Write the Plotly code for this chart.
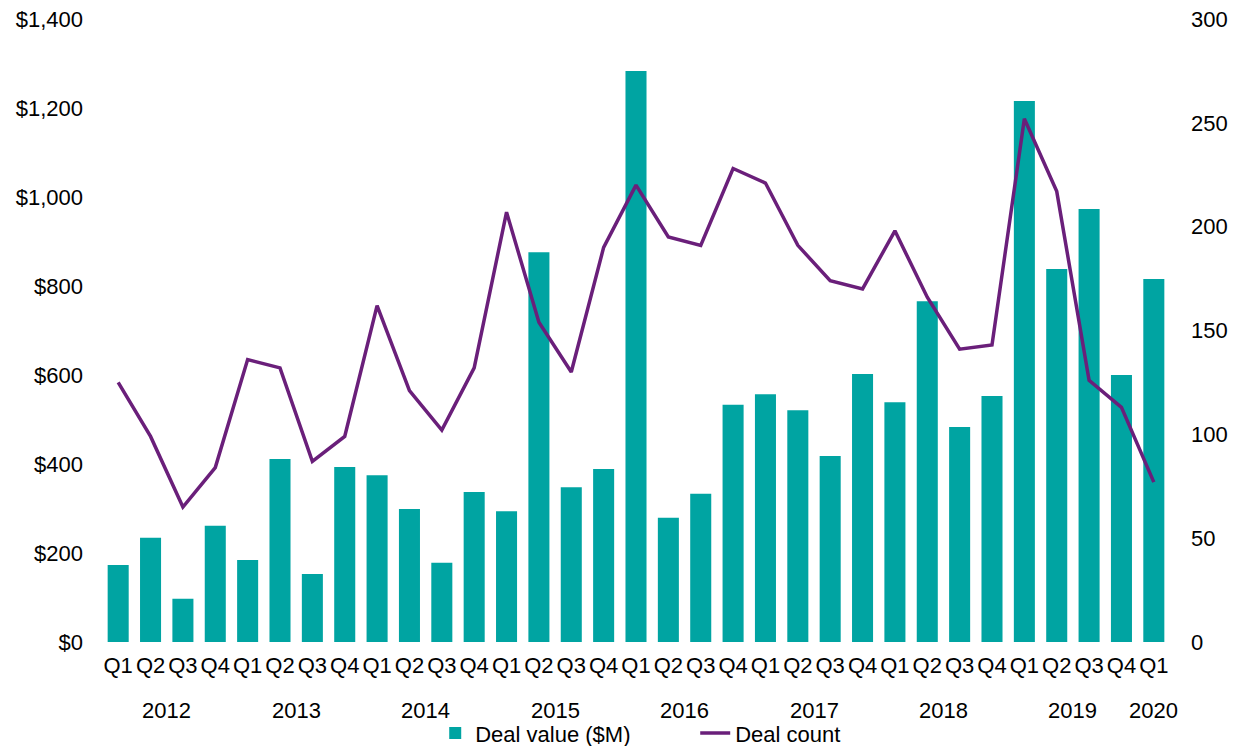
import plotly.graph_objects as go

# Quarterly deal activity, 2012 Q1 – 2020 Q1
quarters = ["Q1", "Q2", "Q3", "Q4"] * 8 + ["Q1"]
years = ["2012", "2013", "2014", "2015", "2016", "2017", "2018", "2019", "2020"]

deal_value = [173, 234, 97, 261,
              184, 411, 153, 393,
              375, 299, 178, 337,
              294, 876, 348, 389,
              1283, 279, 333, 533,
              557, 521, 418, 602,
              539, 766, 483, 553,
              1216, 838, 973, 600,
              816]

deal_count = [125, 99, 65, 84,
              136, 132, 87, 99,
              162, 121, 102, 132,
              207, 154, 130, 190,
              220, 195, 191, 228,
              221, 191, 174, 170,
              198, 166, 141, 143,
              252, 217, 126, 113,
              77]

value_ticks = [0, 200, 400, 600, 800, 1000, 1200, 1400]
value_labels = ["$0", "$200", "$400", "$600", "$800", "$1,000", "$1,200", "$1,400"]
count_ticks = [0, 50, 100, 150, 200, 250, 300]

TEAL = "#00A4A2"
PURPLE = "#6A1F7A"
FONT = "Liberation Sans, Arial, sans-serif"
FS = 22

x = list(range(len(deal_value)))

fig = go.Figure()
fig.add_trace(go.Bar(
    x=x, y=deal_value, name="Deal value ($M)",
    marker=dict(color=TEAL, line=dict(width=0)),
    yaxis="y",
))
fig.add_trace(go.Scatter(
    x=x, y=deal_count, name="Deal count", mode="lines",
    line=dict(color=PURPLE, width=3.5),
    yaxis="y2",
))

# Year labels centred beneath each group of quarters
annotations = []
for i, yr in enumerate(years):
    idx = [k for k in range(len(x)) if k // 4 == i]
    cx = sum(idx) / len(idx)
    annotations.append(dict(
        x=cx, y=-0.11, xref="x", yref="paper", text=yr, showarrow=False,
        xanchor="center", yanchor="middle",
        font=dict(family=FONT, size=FS, color="#000000"),
    ))

fig.update_layout(
    width=1247, height=746,
    margin=dict(l=102, r=77, t=19, b=104, autoexpand=False),
    paper_bgcolor="white", plot_bgcolor="white",
    bargap=0.35,
    font=dict(family=FONT, size=FS, color="#000000"),
    showlegend=True,
    legend=dict(
        orientation="h", x=0.312, xanchor="left",
        yref="container", y=0.017, yanchor="middle",
        font=dict(family=FONT, size=FS, color="#000000"),
        entrywidth=215, entrywidthmode="pixels",
        bgcolor="rgba(0,0,0,0)",
        tracegroupgap=0,
    ),
    xaxis=dict(
        range=[-0.5, len(x) - 0.5],
        tickmode="array", tickvals=x, ticktext=quarters,
        tickangle=0,
        showgrid=False, zeroline=False, showline=False,
        ticks="", ticklabelstandoff=8,
        tickfont=dict(family=FONT, size=FS, color="#000000"),
    ),
    yaxis=dict(
        range=[0, 1400], tickmode="array", tickvals=value_ticks, ticktext=value_labels,
        showgrid=False, zeroline=False, showline=False, ticks="",
        ticklabelstandoff=18,
        tickfont=dict(family=FONT, size=FS, color="#000000"),
    ),
    yaxis2=dict(
        range=[0, 300], tickmode="array", tickvals=count_ticks,
        overlaying="y", side="right",
        showgrid=False, zeroline=False, showline=False, ticks="",
        ticklabelstandoff=20,
        tickfont=dict(family=FONT, size=FS, color="#000000"),
    ),
    annotations=annotations,
)

fig.write_html("out.html")
